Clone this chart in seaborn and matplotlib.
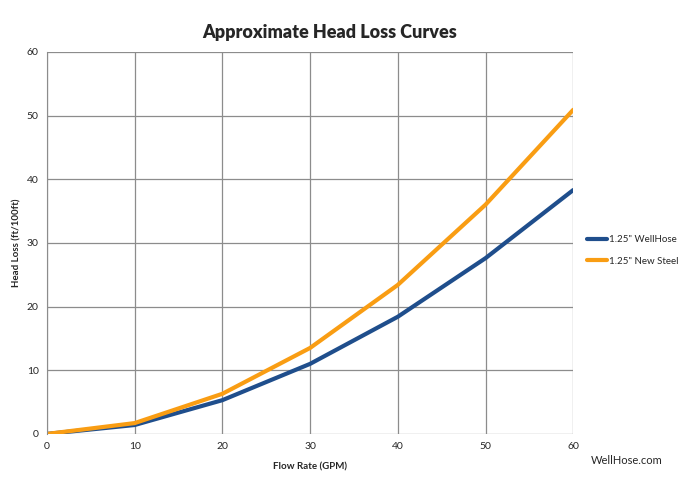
import matplotlib
matplotlib.use("Agg")
import matplotlib.pyplot as plt
import seaborn as sns
import pandas as pd

flow = [0, 10, 20, 30, 40, 50, 60]
wellhose = [0, 1.4, 5.3, 11.0, 18.4, 27.6, 38.3]
steel = [0, 1.7, 6.3, 13.5, 23.4, 36.0, 50.9]
series_names = ['1.25" WellHose', '1.25" New Steel']
colors = ["#1F4E8C", "#F99D13"]

df = pd.concat([
    pd.DataFrame({"Flow": flow, "Loss": wellhose, "Series": series_names[0]}),
    pd.DataFrame({"Flow": flow, "Loss": steel, "Series": series_names[1]}),
])

sns.set_style("white")
plt.rcParams['font.family'] = ['Lato', 'DejaVu Sans']

fig = plt.figure(figsize=(6.8, 4.8), dpi=100)
ax = fig.add_axes([0.069, 0.096, 0.774, 0.796])
sns.lineplot(data=df, x="Flow", y="Loss", hue="Series", palette=colors,
             linewidth=3, ax=ax, legend=True)

ax.set_xlim(0, 60)
ax.set_ylim(0, 60)
ax.set_xticks(range(0, 61, 10))
ax.set_yticks(range(0, 61, 10))
ax.grid(True, color="#8c8c8c", linewidth=0.9)
ax.set_axisbelow(True)
for s in ["top", "right", "bottom"]:
    ax.spines[s].set_visible(False)
ax.spines["left"].set_color("#8c8c8c")
ax.tick_params(axis="both", labelsize=7.5, length=0, pad=6)
ax.set_xlabel("Flow Rate (GPM)", fontsize=7, fontweight="bold", labelpad=8)
ax.set_ylabel("Head Loss (ft/100ft)", fontsize=7, fontweight="bold", labelpad=4)
fig.text(0.484, 0.932, "Approximate Head Loss Curves", ha="center", va="center",
         fontsize=13, fontweight="heavy")

leg = ax.legend(loc="center left", bbox_to_anchor=(1.01, 0.48), frameon=False,
                fontsize=7, handlelength=2.0, labelspacing=1.3, handletextpad=0.2)
for line in leg.get_lines():
    line.set_linewidth(3)

fig.text(0.975, 0.04, "WellHose.com", ha="right", va="center", fontsize=8)

fig.savefig("out.png", dpi=100)
